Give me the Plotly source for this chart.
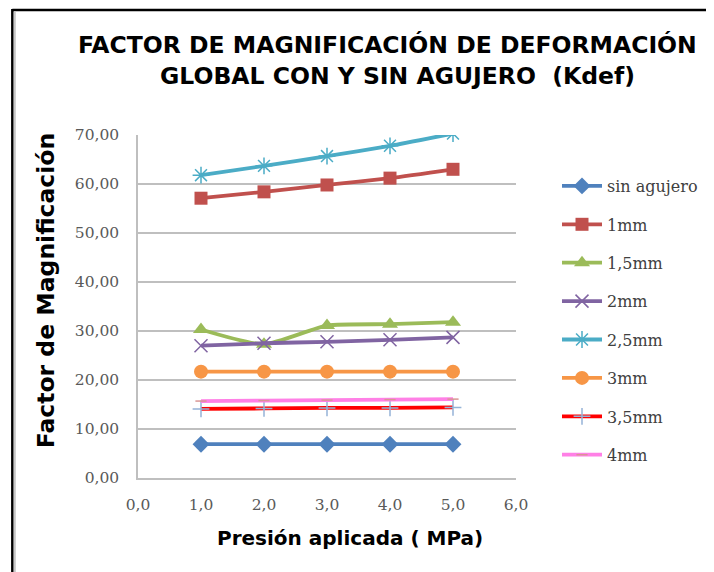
import plotly.graph_objects as go

presion = [1.0, 2.0, 3.0, 4.0, 5.0]

sin_agujero = [6.9, 6.9, 6.9, 6.9, 6.9]
mm1 = [57.1, 58.4, 59.8, 61.2, 63.0]
mm1_5 = [30.3, 27.3, 31.1, 31.4, 31.8]
mm2 = [27.0, 27.5, 27.8, 28.2, 28.7]
mm2_5 = [61.8, 63.7, 65.7, 67.8, 70.3]
mm3 = [21.7, 21.7, 21.7, 21.7, 21.7]
mm3_5 = [14.1, 14.2, 14.3, 14.3, 14.4]
mm4 = [15.7, 15.8, 15.9, 16.0, 16.1]

series_names = ["sin agujero", "1mm", "1,5mm", "2mm", "2,5mm", "3mm", "3,5mm", "4mm"]
series_values = [sin_agujero, mm1, mm1_5, mm2, mm2_5, mm3, mm3_5, mm4]

x_ticks = [0, 1, 2, 3, 4, 5, 6]
x_tick_labels = ["0,0", "1,0", "2,0", "3,0", "4,0", "5,0", "6,0"]
y_ticks = [0, 10, 20, 30, 40, 50, 60, 70]
y_tick_labels = ["0,00", "10,00", "20,00", "30,00", "40,00", "50,00", "60,00", "70,00"]

styles = [
    dict(line="#4F81BD", marker="#4F81BD", symbol="diamond", size=13, lw=0),
    dict(line="#C0504D", marker="#C0504D", symbol="square", size=13, lw=0),
    dict(line="#9BBB59", marker="#9BBB59", symbol="triangle-up", size=14, lw=0),
    dict(line="#8064A2", marker="#8064A2", symbol="x-thin-open", size=13, lw=1.5),
    dict(line="#4BACC6", marker="#4BACC6", symbol="asterisk-open", size=14, lw=1.5),
    dict(line="#F79646", marker="#F79646", symbol="circle", size=14, lw=0),
    dict(line="#FF0000", marker="#95B3D7", symbol="cross-thin-open", size=12, lw=1.5),
    dict(line="#FF80E6", marker="#D99694", symbol="line-ew-open", size=8, lw=1.5),
]

fig = go.Figure()
for i, (name, vals, st) in enumerate(zip(series_names, series_values, styles)):
    fig.add_trace(go.Scatter(
        x=presion, y=vals, name=name, mode="lines+markers",
        line=dict(color=st["line"], width=3.8, shape="spline", smoothing=0.6),
        marker=dict(symbol=st["symbol"], size=st["size"], color=st["marker"],
                    line=dict(color=st["marker"], width=st["lw"])),
        legendgroup=f"g{i}",
    ))

# page body has an 8px margin; positions below are in reference-image pixels
OFF = 8
L, R, T, B = 138, 517, 135, 478
W, H = 714 - OFF, 572 - OFF
pw, ph = R - L, B - T

def px(x):
    return (x - L) / pw

def py(y):
    return (B - y) / ph

grid = "#BFBFBF"
fig.update_layout(
    width=W, height=H,
    margin=dict(l=L - OFF, r=W - (R - OFF), t=T - OFF, b=H - (B - OFF), pad=0),
    paper_bgcolor="white", plot_bgcolor="white",
    showlegend=True,
    legend=dict(
        x=px(557), y=py(169), xanchor="left", yanchor="top",
        font=dict(family="DejaVu Serif", size=16, color="#404040"),
        traceorder="grouped", tracegroupgap=14.6,
        bgcolor="rgba(0,0,0,0)", itemwidth=40,
    ),
    xaxis=dict(
        range=[0, 6], tickvals=x_ticks, ticktext=x_tick_labels,
        showgrid=False, zeroline=False, showline=True, linecolor=grid, linewidth=1.5,
        tickfont=dict(family="DejaVu Serif", size=15.5, color="#595959"),
        ticks="", ticklabelstandoff=12,
    ),
    yaxis=dict(
        range=[0, 70], tickvals=y_ticks, ticktext=y_tick_labels,
        showgrid=True, gridcolor=grid, gridwidth=1.5,
        zeroline=False, showline=True, linecolor=grid, linewidth=1.5,
        tickfont=dict(family="DejaVu Serif", size=15.5, color="#595959"),
        ticks="", ticklabelstandoff=14,
    ),
    annotations=[
        dict(text="<b>FACTOR DE MAGNIFICACIÓN DE DEFORMACIÓN</b>", x=px(388), y=py(45),
             xref="paper", yref="paper", showarrow=False, xanchor="center", yanchor="middle",
             font=dict(family="DejaVu Sans", size=23.5, color="black")),
        dict(text="<b>GLOBAL CON Y SIN AGUJERO\u00a0\u00a0(Kdef)</b>", x=px(398), y=py(76),
             xref="paper", yref="paper", showarrow=False, xanchor="center", yanchor="middle",
             font=dict(family="DejaVu Sans", size=23.5, color="black")),
        dict(text="<b>Factor de Magnificación</b>", x=px(46), y=py(291),
             xref="paper", yref="paper", showarrow=False, xanchor="center", yanchor="middle",
             textangle=-90, font=dict(family="DejaVu Sans", size=23.5, color="black")),
        dict(text="<b>Presión aplicada ( MPa)</b>", x=px(351), y=py(538),
             xref="paper", yref="paper", showarrow=False, xanchor="center", yanchor="middle",
             font=dict(family="DejaVu Sans", size=20, color="black")),
    ],
    shapes=[
        dict(type="line", xref="paper", yref="paper", x0=px(12), x1=px(720), y0=py(10), y1=py(10),
             line=dict(color="black", width=2.5)),
        dict(type="line", xref="paper", yref="paper", x0=px(12), x1=px(12), y0=py(9), y1=py(580),
             line=dict(color="black", width=2.5)),
        dict(type="line", xref="paper", yref="paper", x0=px(14.5), x1=px(14.5), y0=py(12), y1=py(580),
             line=dict(color="#C8C8C8", width=2)),
    ],
)

fig.write_html("out.html")
